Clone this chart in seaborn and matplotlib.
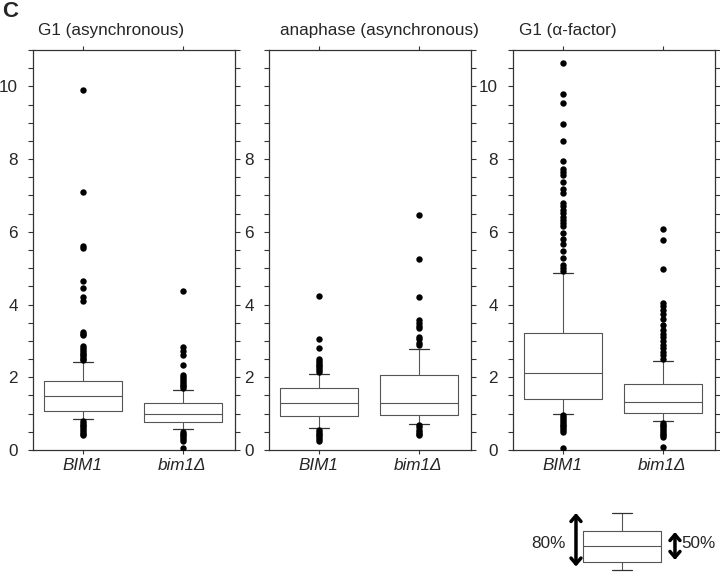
import matplotlib
matplotlib.use("Agg")
import matplotlib.pyplot as plt
import seaborn as sns
import pandas as pd
import numpy as np

groups = ["BIM1", "bim1Δ"]
panel_titles = ["G1 (asynchronous)", "anaphase (asynchronous)", "G1 (α-factor)"]

# box summaries per group: [10th pct, 25th pct, median, 75th pct, 90th pct]
g1_async_stats = [[0.84, 1.07, 1.49, 1.90, 2.41],
                  [0.57, 0.76, 1.00, 1.30, 1.64]]
anaphase_stats = [[0.61, 0.93, 1.30, 1.71, 2.10],
                  [0.71, 0.95, 1.28, 2.05, 2.77]]
g1_alpha_stats = [[0.99, 1.40, 2.13, 3.23, 4.88],
                  [0.79, 1.03, 1.33, 1.82, 2.46]]

# points outside the 10-90 % range
g1_async_bim1_out = [9.9, 7.1, 5.6, 5.55, 4.65, 4.45, 4.2, 4.1, 3.25, 3.2, 3.15,
                     2.85, 2.8, 2.75, 2.7, 2.65, 2.6, 2.55, 2.5, 2.47,
                     0.8, 0.75, 0.7, 0.65, 0.6, 0.55, 0.5, 0.45, 0.4]
g1_async_bim1d_out = [4.37, 2.82, 2.72, 2.61, 2.35, 2.05, 2.0, 1.95, 1.9, 1.85,
                      1.8, 1.75, 1.7, 0.5, 0.45, 0.4, 0.35, 0.3, 0.25, 0.06]
anaphase_bim1_out = [4.23, 3.04, 2.8, 2.5, 2.45, 2.4, 2.35, 2.3, 2.25, 2.2, 2.15,
                     0.55, 0.5, 0.45, 0.4, 0.35, 0.3, 0.25]
anaphase_bim1d_out = [6.47, 5.24, 4.21, 3.57, 3.5, 3.42, 3.35, 3.12, 3.05, 2.95,
                      2.88, 0.68, 0.62, 0.55, 0.5, 0.45, 0.4]
g1_alpha_bim1_out = [10.65, 9.78, 9.55, 8.97, 8.49, 7.95, 7.74, 7.65, 7.55, 7.37,
                     7.19, 7.07, 6.79, 6.7, 6.6, 6.52, 6.42, 6.33, 6.24, 6.15,
                     5.97, 5.79, 5.66, 5.48, 5.28, 5.1, 5.01, 4.92,
                     0.95, 0.9, 0.85, 0.8, 0.75, 0.7, 0.65, 0.6, 0.55, 0.5, 0.05]
g1_alpha_bim1d_out = [6.07, 5.77, 4.97, 4.05, 3.95, 3.85, 3.75, 3.6, 3.45, 3.3,
                      3.2, 3.1, 3.0, 2.9, 2.8, 2.7, 2.6, 2.5,
                      0.75, 0.7, 0.65, 0.6, 0.55, 0.5, 0.45, 0.4, 0.35, 0.09]

# y tick labels shown on each panel's left axis
left_labels = [["0", "2", "4", "6", "8", "10"],
               ["0", "2", "4", "6", "8", ""],
               ["0", "2", "4", "6", "8", "10"]]

# schematic key: [whisker low, box low, median, box high, whisker high]
key_stats = [0.0, 0.145, 0.41, 0.68, 1.0]

panels = [
    (g1_async_stats, [g1_async_bim1_out, g1_async_bim1d_out]),
    (anaphase_stats, [anaphase_bim1_out, anaphase_bim1d_out]),
    (g1_alpha_stats, [g1_alpha_bim1_out, g1_alpha_bim1d_out]),
]

sns.set_theme(style="ticks")
plt.rcParams["font.family"] = ["Liberation Sans", "DejaVu Sans"]

W, H = 720, 574
fig = plt.figure(figsize=(7.2, 5.74), dpi=100)

line_col = "#333333"
box_kw = dict(
    boxprops=dict(color="#555555", linewidth=0.8),
    medianprops=dict(color="#555555", linewidth=0.8),
    whiskerprops=dict(color="#555555", linewidth=0.8),
    capprops=dict(color="#333333", linewidth=0.9),
)

lefts = [32.5, 268.5, 512.5]
title_x = [38, 280, 519]

for i, (stats, outs) in enumerate(panels):
    ax = fig.add_axes([lefts[i] / W, (H - 450) / H, 202 / W, 400 / H])
    bstats = [dict(whislo=s[0], q1=s[1], med=s[2], q3=s[3], whishi=s[4], fliers=[])
              for s in stats]
    ax.bxp(bstats, positions=[0, 1], widths=0.78, capwidths=0.2,
           showfliers=False, manage_ticks=False, **box_kw)

    df = pd.DataFrame({
        "Group": np.repeat(groups, [len(o) for o in outs]),
        "Value": np.concatenate(outs),
    })
    sns.stripplot(data=df, x="Group", y="Value", order=groups, jitter=False,
                  color="black", size=4.6, linewidth=0, ax=ax)

    ax.set_xlim(-0.5, 1.52)
    ax.set_ylim(0, 11)
    ax.set_xlabel("")
    ax.set_ylabel("")
    ax.set_xticks([0, 1])
    ax.set_xticklabels(groups, fontsize=12.3, style="italic")
    ax.set_yticks(range(0, 11, 2))
    ax.set_yticklabels(left_labels[i], fontsize=12.3)
    ax.set_yticks(np.arange(0, 11.01, 0.5), minor=True)
    ax.tick_params(axis="y", which="both", left=True, right=True, length=3.5,
                   width=0.8, color=line_col, direction="out", pad=7)
    ax.tick_params(axis="x", which="both", top=True, bottom=True, length=3,
                   width=0.8, color=line_col, direction="out", pad=3)
    for sp in ax.spines.values():
        sp.set_visible(True)
        sp.set_color(line_col)
        sp.set_linewidth(0.9)

    fig.text(title_x[i] / W, (H - 35) / H, panel_titles[i], fontsize=12.3,
             ha="left", va="baseline")

fig.text(2 / W, (H - 17) / H, "C", fontsize=16, fontweight="bold",
         ha="left", va="baseline")

# key explaining the box plot
kax = fig.add_axes([530 / W, 0, 190 / W, 69 / H])
kax.bxp([dict(whislo=key_stats[0], q1=key_stats[1], med=key_stats[2],
              q3=key_stats[3], whishi=key_stats[4], fliers=[])],
        positions=[0.484], widths=0.41, capwidths=0.11,
        showfliers=False, manage_ticks=False, **box_kw)
kax.set_xlim(0, 1)
kax.set_ylim(-0.07, 1.134)
kax.axis("off")
for ax_x, y0, y1 in [(0.242, 0.06, 0.995), (0.763, 0.175, 0.663)]:
    kax.annotate("", xy=(ax_x, y1), xytext=(ax_x, y0),
                 arrowprops=dict(arrowstyle="<->,head_length=0.35,head_width=0.3",
                                 lw=2.5, color="black", shrinkA=0, shrinkB=0))
kax.text(0.095, 0.47, "80%", ha="center", va="center", fontsize=12.3)
kax.text(0.884, 0.47, "50%", ha="center", va="center", fontsize=12.3)

fig.savefig("out.png", dpi=100)
